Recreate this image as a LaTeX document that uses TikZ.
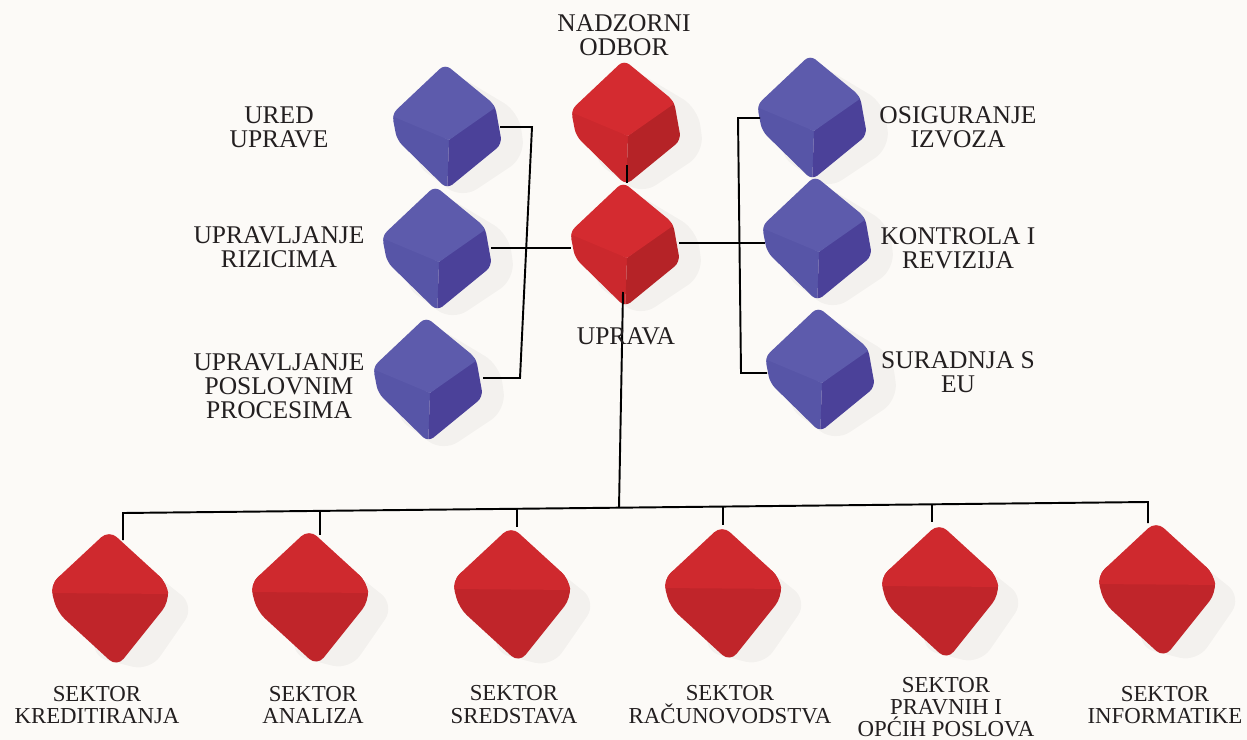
\documentclass[tikz,border=0pt]{standalone}
\usepackage{fontspec}
\setmainfont{Liberation Serif}
\definecolor{bgc}{HTML}{FCFAF7}
\definecolor{btop}{HTML}{5D5BAC}
\definecolor{bleft}{HTML}{5755A7}
\definecolor{bright}{HTML}{4B4199}
\definecolor{rtop}{HTML}{D42B30}
\definecolor{rleft}{HTML}{CB282D}
\definecolor{rright}{HTML}{B52327}
\definecolor{ltop}{HTML}{CF292E}
\definecolor{lfront}{HTML}{C0252A}
\definecolor{txt}{HTML}{231F20}
\tikzset{
  lbl/.style={font=\fontsize{14.5}{13.5}\selectfont, align=center, text=txt, inner sep=0pt},
  lblsmall/.style={font=\fontsize{13}{13}\selectfont, align=center, text=txt, inner sep=0pt},
  wire/.style={line width=1.1pt, black, line join=miter},
  shade/.style={black, opacity=0.035, rounded corners=10pt},
}
\newcommand\upcube[3]{%
  \begin{scope}[shift={(#1,#2)}]
    \fill[shade] (5,-55) -- (72,-15) -- (78,30) -- (15,72) -- (-35,35) -- cycle;
    \begin{scope}
      \clip[rounded corners=4pt] (-2,-63) -- (48,-22) -- (55,17) -- (0,62) -- (-50,13) -- (-55,-13) -- cycle;
      \fill[#3left] (-60,-20) -- (2,13) -- (0,70) -- (-60,20) -- cycle;
      \fill[#3right] (2,13) -- (50,-25) -- (60,20) -- (0,70) -- cycle;
      \fill[#3top] (-2,-70) -- (52,-22) -- (2,13) -- (-60,-13) -- cycle;
    \end{scope}
  \end{scope}}
\newcommand\lowcube[2]{%
  \begin{scope}[shift={(#1,#2)}]
    \fill[shade] (10,-50) -- (85,10) -- (40,75) -- (-20,60) -- cycle;
    \begin{scope}
      \clip[rounded corners=6pt] (-1,-66) -- (57,-13) -- (59,6) -- (7,71) -- (-53,16) -- (-60,-11) -- cycle;
      \fill[lfront] (-70,-20) rectangle (70,80);
      \fill[ltop] (-1,-72) -- (65,-13) -- (65,-2) -- (-65,-3) -- (-65,-11) -- cycle;
    \end{scope}
  \end{scope}}
\begin{document}
\begin{tikzpicture}[x=0.02cm,y=-0.02cm]
\fill[bgc] (0,0) rectangle (1247,740);
\useasboundingbox (0,0) rectangle (1247,740);

% upper cubes
\upcube{447}{127}{b}
\upcube{437}{249}{b}
\upcube{428}{380}{b}
\upcube{812}{118}{b}
\upcube{817}{239}{b}
\upcube{820}{370}{b}
\upcube{626}{123}{r}
\upcube{625}{245}{r}
% lower cubes
\lowcube{110}{596}
\lowcube{310}{595}
\lowcube{512}{592}
\lowcube{723}{591}
\lowcube{940}{589}
\lowcube{1157}{587}

% connection points
\coordinate (b1e) at (500,127);
\coordinate (j1) at (532,127);
\coordinate (j3) at (520,378);
\coordinate (b3e) at (483,378);
\coordinate (b2e) at (491,248);
\coordinate (r2w) at (571,248);
\coordinate (r1s) at (627,165);
\coordinate (r2n) at (627,183);
\coordinate (r2e) at (679,243);
\coordinate (b5w) at (765,243);
\coordinate (k4) at (738,118);
\coordinate (k6) at (741,373);
\coordinate (b4w) at (760,118);
\coordinate (b6w) at (767,373);
\coordinate (r2s) at (623,292);
\coordinate (busm) at (619,507.7);
\coordinate (d1) at (123,513);
\coordinate (d2) at (320,510.9);
\coordinate (d3) at (517,508.8);
\coordinate (d4) at (723,506.6);
\coordinate (d5) at (932,504.3);
\coordinate (d6) at (1148,502);
\coordinate (s1n) at (123,540);
\coordinate (s2n) at (320,535);
\coordinate (s3n) at (517,527);
\coordinate (s4n) at (723,525);
\coordinate (s5n) at (932,522);
\coordinate (s6n) at (1148,523);

% connectors
\draw[wire] (b1e) -- (j1) -- (j3) -- (b3e);
\draw[wire] (b2e) -- (r2w);
\draw[wire] (r1s) -- (r2n);
\draw[wire] (r2e) -- (b5w);
\draw[wire] (b4w) -- (k4) -- (k6) -- (b6w);
\draw[wire] (r2s) -- (busm);
\draw[wire] (s1n) -- (d1) -- (d6) -- (s6n);
\draw[wire] (d2) -- (s2n);
\draw[wire] (d3) -- (s3n);
\draw[wire] (d4) -- (s4n);
\draw[wire] (d5) -- (s5n);

% labels
\node[lbl] (tnad) at (624,35) {NADZORNI\\ODBOR};
\node[lbl] (tured) at (279,127) {URED\\UPRAVE};
\node[lbl] (trizik) at (279,247) {UPRAVLJANJE\\RIZICIMA};
\node[lbl] (tposl) at (279,386) {UPRAVLJANJE\\POSLOVNIM\\PROCESIMA};
\node[lbl] (tuprava) at (626,336) {UPRAVA};
\node[lbl] (tosig) at (958,127) {OSIGURANJE\\IZVOZA};
\node[lbl] (tkontr) at (958,248) {KONTROLA I\\REVIZIJA};
\node[lbl] (tsurad) at (958,372) {SURADNJA S\\EU};
\node[lblsmall] (ts1) at (97,705) {SEKTOR\\KREDITIRANJA};
\node[lblsmall] (ts2) at (313,705) {SEKTOR\\ANALIZA};
\node[lblsmall] (ts3) at (514,705) {SEKTOR\\SREDSTAVA};
\node[lblsmall] (ts4) at (730,705) {SEKTOR\\RAČUNOVODSTVA};
\node[lblsmall, font=\fontsize{13}{12.4}\selectfont, anchor=south] (ts5) at (946,737) {SEKTOR\\PRAVNIH I\\OPĆIH POSLOVA};
\node[lblsmall] (ts6) at (1165,705) {SEKTOR\\INFORMATIKE};
\end{tikzpicture}
\end{document}
